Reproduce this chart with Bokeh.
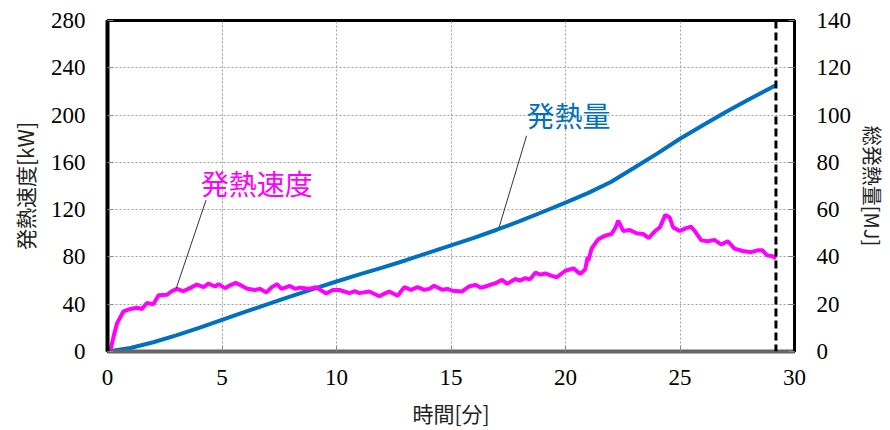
import math
from bokeh.plotting import figure
from bokeh.models import Range1d, LinearAxis, Span, Label, FixedTicker
from bokeh.embed import file_html
from bokeh.resources import INLINE

# heat release rate [kW] vs time [min]
hrr_t = [0.0, 0.13, 0.27, 0.42, 0.7, 1.0, 1.29, 1.5, 1.72, 2.0, 2.23, 2.6, 2.8, 3.03, 3.3,
         3.6, 3.9, 4.2, 4.4, 4.7, 4.85, 5.13, 5.35, 5.6, 5.78, 6.1, 6.43, 6.65, 6.94, 7.15,
         7.4, 7.6, 7.96, 8.2, 8.4, 8.8, 9.1, 9.3, 9.55, 9.84, 10.13, 10.57, 10.8, 11.0, 11.2,
         11.43, 11.87, 12.1, 12.3, 12.67, 12.96, 13.25, 13.54, 13.83, 14.05, 14.26, 14.62,
         14.85, 15.06, 15.49, 15.78, 16.07, 16.3, 16.5, 16.94, 17.23, 17.45, 17.81, 18.0,
         18.25, 18.45, 18.68, 18.9, 19.12, 19.4, 19.62, 19.99, 20.35, 20.64, 20.86, 20.97,
         21.0, 21.14, 21.43, 21.73, 22.01, 22.19, 22.3, 22.52, 22.81, 23.1, 23.39, 23.64,
         23.9, 24.12, 24.36, 24.55, 24.7, 24.99, 25.27, 25.49, 25.64, 25.93, 26.22, 26.5,
         26.8, 27.09, 27.38, 27.74, 28.1, 28.39, 28.6, 28.8, 29.04, 29.19]
hrr_kw = [0, 1, 13, 24, 34, 36, 37, 36, 41, 40, 47.5, 48, 51, 53, 51,
          53.6, 56.6, 54.4, 57.5, 55, 57, 53.6, 56, 58, 56.4, 53, 52, 53, 50, 54,
          57, 53, 55.5, 53, 54, 53, 54.5, 52, 49, 52, 52, 49.4, 51, 49.4, 50,
          50.8, 46.7, 49, 50.8, 47.2, 54.4, 52.2, 54.4, 52.2, 53, 55.6, 52.2,
          53, 51.4, 50.8, 55, 56.4, 54, 55, 57.8, 60.6, 57.2, 61.4, 60,
          62, 61, 66.7, 65, 66, 64, 62.8, 68.3, 70.3, 65.6, 69.4, 80,
          77, 87, 95, 98, 99.4, 105, 110.6, 102, 102.8, 100, 99.4, 96,
          101.7, 105, 115.6, 113.3, 105, 102, 104.4, 105.6, 102, 94, 93.3, 94.4,
          90.6, 93.3, 87, 85, 84, 85.6, 85.6, 81.4, 80.6, 78.6]

# total heat released [MJ] vs time [min]
thr_t = [0, 1, 2, 3, 4, 5, 6, 7, 8, 9, 10, 11, 12, 13, 14, 15, 16, 17, 18, 19, 20, 21,
         22, 23, 24, 25, 26, 27, 28, 29, 29.19]
thr_mj = [0, 1.5, 3.9, 6.8, 10.0, 13.4, 16.8, 20.0, 23.3, 26.5, 29.6, 32.6, 35.5, 38.5,
          41.7, 44.9, 48.1, 51.5, 55.1, 59.0, 63.0, 67.1, 71.8, 77.7, 83.7, 90.0, 95.7,
          101.3, 106.6, 111.7, 112.6]

x_ticks = [0, 5, 10, 15, 20, 25, 30]
y_ticks = [0, 40, 80, 120, 160, 200, 240, 280]
y2_ticks = [0, 20, 40, 60, 80, 100, 120, 140]
end_time = 29.19

SERIF = "Liberation Serif"
CJK = "Noto Sans CJK JP"
MAGENTA = "#FF00FF"
BLUE = "#0070C0"

p = figure(width=890, height=430, output_backend="svg", toolbar_location=None,
           x_range=Range1d(0, 30), y_range=Range1d(0, 280),
           min_border_left=107, min_border_right=93, min_border_top=20, min_border_bottom=74)
p.extra_y_ranges = {"mj": Range1d(0, 140)}
p.background_fill_color = "white"
p.border_fill_color = "white"
p.outline_line_color = "black"
p.outline_line_width = 3

# grids
for g in (p.xgrid, p.ygrid):
    g.grid_line_color = "#a0a0a0"
    g.grid_line_dash = "2 2"
    g.grid_line_width = 1
p.xgrid.ticker = FixedTicker(ticks=x_ticks)
p.ygrid.ticker = FixedTicker(ticks=y_ticks)

# x axis
xa = p.xaxis[0]
xa.ticker = FixedTicker(ticks=x_ticks)
xa.axis_label = "時間[分]"
xa.axis_label_text_font = CJK
xa.axis_label_text_font_style = "normal"
xa.axis_label_text_font_size = "21px"
xa.axis_label_text_color = "#222222"
xa.axis_label_standoff = 10
xa.major_label_text_font = SERIF
xa.major_label_text_font_size = "23px"
xa.major_label_text_color = "black"
xa.major_label_standoff = 18
xa.axis_line_color = "#666666"
xa.axis_line_width = 4
xa.major_tick_in = 6
xa.major_tick_out = 0
xa.major_tick_line_color = "#888888"
xa.minor_tick_line_color = None

# left y axis
ya = p.yaxis[0]
ya.ticker = FixedTicker(ticks=y_ticks)
ya.axis_label = "発熱速度[kW]"
ya.axis_label_text_font = CJK
ya.axis_label_text_font_style = "normal"
ya.axis_label_text_font_size = "21px"
ya.axis_label_text_color = "#222222"
ya.axis_label_standoff = 8
ya.major_label_text_font = SERIF
ya.major_label_text_font_size = "23px"
ya.major_label_text_color = "black"
ya.major_label_standoff = 22
ya.axis_line_color = "black"
ya.axis_line_width = 4
ya.major_tick_in = 6
ya.major_tick_out = 0
ya.major_tick_line_color = "#888888"
ya.minor_tick_line_color = None

# right y axis
ra = LinearAxis(y_range_name="mj", ticker=FixedTicker(ticks=y2_ticks))
ra.axis_label = "総発熱量[MJ]"
ra.axis_label_text_font = CJK
ra.axis_label_text_font_style = "normal"
ra.axis_label_text_font_size = "20px"
ra.axis_label_text_color = "#222222"
ra.axis_label_standoff = 4
ra.major_label_text_font = SERIF
ra.major_label_text_font_size = "23px"
ra.major_label_text_color = "black"
ra.major_label_standoff = 22
ra.axis_line_color = "black"
ra.axis_line_width = 3
ra.major_tick_in = 6
ra.major_tick_out = 0
ra.major_tick_line_color = "#888888"
ra.minor_tick_line_color = None
p.add_layout(ra, "right")

# data lines
p.line(thr_t, thr_mj, y_range_name="mj", line_color=BLUE, line_width=4)
p.line(hrr_t, hrr_kw, line_color=MAGENTA, line_width=4)

# end of test marker
p.add_layout(Span(location=end_time, dimension="height", line_color="black",
                  line_width=3, line_dash="8 4"))

# annotations
p.segment(x0=[3.0, 17.1], y0=[53.3, 105], x1=[4.3, 18.3], y1=[128, 182.5],
          line_color="#333333", line_width=1)
p.add_layout(Label(x=6.52, y=142.5, text="発熱速度", text_font=CJK, text_font_size="28px",
                   text_color=MAGENTA, text_align="center", text_baseline="middle"))
p.add_layout(Label(x=20.13, y=200, text="発熱量", text_font=CJK, text_font_size="28px",
                   text_color=BLUE, text_align="center", text_baseline="middle"))

open("out.html", "w").write(file_html(p, INLINE))
